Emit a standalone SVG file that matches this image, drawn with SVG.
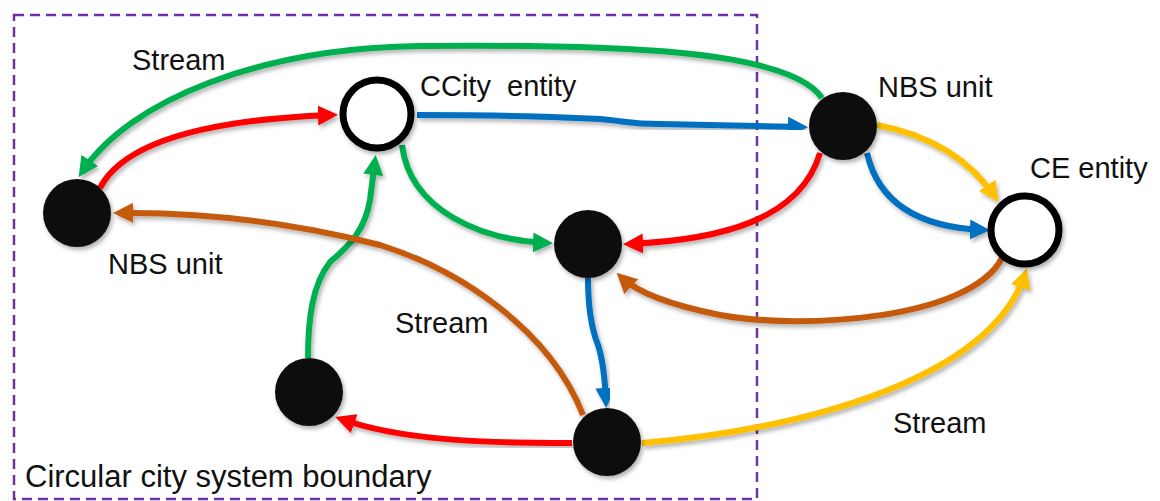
<svg xmlns="http://www.w3.org/2000/svg" width="1160" height="501" viewBox="0 0 1160 501">
<style>
  .lbl { font-family: "Liberation Sans", Arial, sans-serif; font-size: 29px; fill: #111; }
  .big { font-size: 31px; }
  .c { fill: none; stroke-width: 6; stroke-linecap: butt; filter: url(#sh); }
  .g { stroke: #00B050; marker-end: url(#aG); }
  .r { stroke: #FF0000; marker-end: url(#aR); }
  .b { stroke: #0070C0; marker-end: url(#aB); }
  .o { stroke: #C55A11; marker-end: url(#aO); }
  .y { stroke: #FFC000; marker-end: url(#aY); }
  .full { fill: #0d0d0d; filter: url(#sh); }
  .open { fill: #fff; stroke: #000; stroke-width: 7; filter: url(#sh); }
</style>
<defs>
  <filter id="sh" x="-20%" y="-20%" width="140%" height="140%">
    <feDropShadow dx="2" dy="3" stdDeviation="2" flood-color="#000" flood-opacity="0.3"/>
  </filter>
  <marker id="aG" viewBox="0 0 20 20" refX="14" refY="10" markerWidth="20" markerHeight="20" markerUnits="userSpaceOnUse" orient="auto"><path d="M0,0 L20,10 L0,20 z" fill="#00B050"/></marker>
  <marker id="aR" viewBox="0 0 20 20" refX="14" refY="10" markerWidth="20" markerHeight="20" markerUnits="userSpaceOnUse" orient="auto"><path d="M0,0 L20,10 L0,20 z" fill="#FF0000"/></marker>
  <marker id="aB" viewBox="0 0 20 20" refX="14" refY="10" markerWidth="20" markerHeight="20" markerUnits="userSpaceOnUse" orient="auto"><path d="M0,0 L20,10 L0,20 z" fill="#0070C0"/></marker>
  <marker id="aO" viewBox="0 0 20 20" refX="14" refY="10" markerWidth="20" markerHeight="20" markerUnits="userSpaceOnUse" orient="auto"><path d="M0,0 L20,10 L0,20 z" fill="#C55A11"/></marker>
  <marker id="aY" viewBox="0 0 20 20" refX="14" refY="10" markerWidth="20" markerHeight="20" markerUnits="userSpaceOnUse" orient="auto"><path d="M0,0 L20,10 L0,20 z" fill="#FFC000"/></marker>
</defs>
<rect width="1160" height="501" fill="#fff"/>
<g id="boundary">
  <rect x="14" y="15" width="743" height="484" fill="none" stroke="#7030A0" stroke-width="2.5" stroke-dasharray="10 6"/>
  <text class="lbl big" x="25" y="487">Circular city system boundary</text>
</g>
<g id="connectors">
  <path class="c g" d="M822,98 C790,50 620,44 420,46 C260,48 130,100 82,172"/>
  <path class="c r" d="M100,188 C130,130 250,118 332,115"/>
  <path class="c b" d="M417,115 C520,115 560,117 600,119 C625,121 630,124 660,124 L802,127"/>
  <path class="c g" d="M402,145 C410,210 480,240 547,243"/>
  <path class="c r" d="M820,153 C800,220 720,240 629,244"/>
  <path class="c y" d="M877,125 C930,135 970,160 995,197"/>
  <path class="c b" d="M867,153 C880,210 930,228 984,230"/>
  <path class="c o" d="M1002,258 C970,320 800,330 720,315 C680,307 640,295 621,277"/>
  <path class="c y" d="M642,443 C800,430 990,380 1025,274"/>
  <path class="c r" d="M572,443 C480,443 400,440 341,419"/>
  <path class="c b" d="M588,278 C588,310 592,330 598,345 C603,360 605,380 606,402"/>
  <path class="c g" d="M308,358 C308,320 312,285 330,262 C350,245 365,230 370,200 L375,161"/>
  <path class="c o" d="M583,415 C550,330 460,270 380,245 C290,222 200,212 119,213"/>
</g>
<g id="node-nbs-left"><circle class="full" cx="77" cy="213" r="34"/><text class="lbl" x="108" y="274">NBS unit</text></g>
<g id="node-ccity"><circle class="open" cx="377" cy="114" r="34"/><text class="lbl" x="420" y="96" xml:space="preserve">CCity  entity</text></g>
<g id="node-mid"><circle class="full" cx="588" cy="244" r="34"/></g>
<g id="node-nbs-right"><circle class="full" cx="843" cy="126" r="34"/><text class="lbl" x="878" y="97">NBS unit</text></g>
<g id="node-ce"><circle class="open" cx="1025" cy="230" r="34"/><text class="lbl" x="1030" y="178">CE entity</text></g>
<g id="node-bl"><circle class="full" cx="309" cy="392" r="34"/></g>
<g id="node-bottom"><circle class="full" cx="607" cy="442" r="34"/></g>
<g id="labels">
  <text class="lbl" x="132" y="70">Stream</text>
  <text class="lbl" x="395" y="333">Stream</text>
  <text class="lbl" x="893" y="433">Stream</text>
</g>
</svg>
